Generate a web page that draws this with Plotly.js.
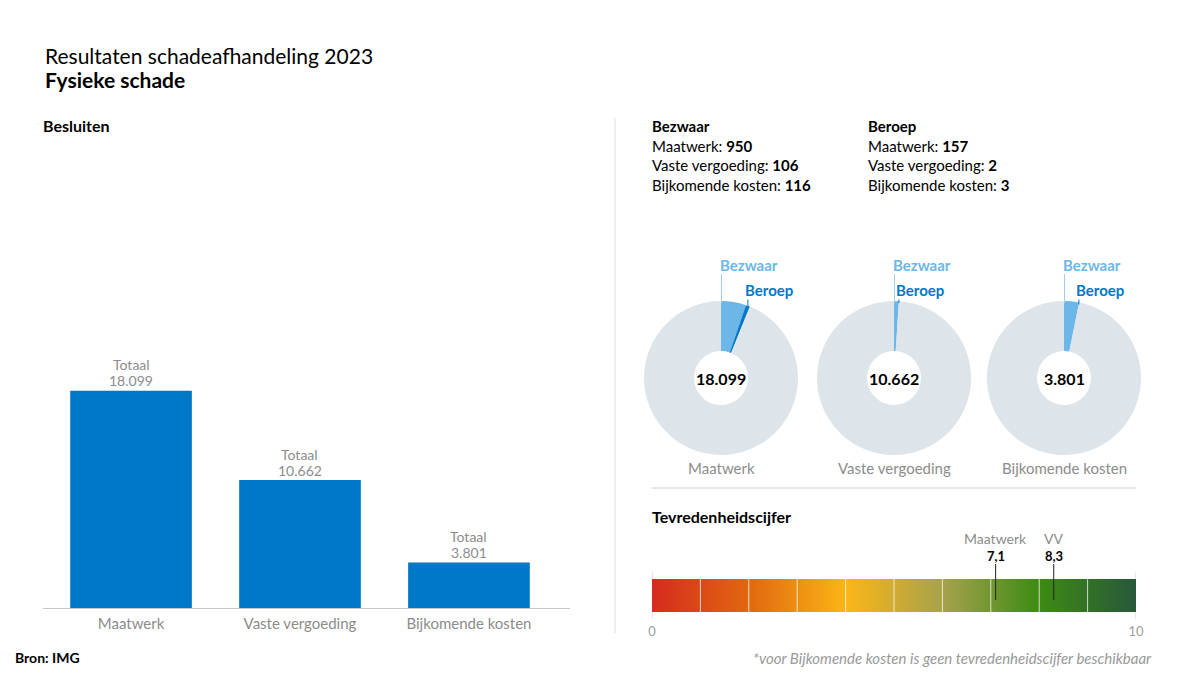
<!DOCTYPE html>
<html>
<head>
<meta charset="utf-8">
<script src="https://cdn.plot.ly/plotly-3.0.1.min.js"></script>
<style>
html, body { margin: 0; padding: 0; background: #fff; }
#chart { width: 1200px; height: 675px; }
</style>
</head>
<body>
<div id="chart"></div>
<script>
// Data.
var categories = ['Maatwerk', 'Vaste vergoeding', 'Bijkomende kosten'];
var totals = [18099, 10662, 3801];
var bezwaar = [950, 106, 116];
var beroep = [157, 2, 3];
var scoreLabels = ['Maatwerk', 'VV'];
var scores = [7.1, 8.3];
var scaleTicks = [0, 10];

var W = 1200, H = 675;
var FONT = 'Lato, "Noto Sans", sans-serif';
var GRAY = '#8c8c8c';
var BLUE = '#0078c8';
var LIGHTBLUE = '#6cb7e8';
var RING = '#dde4ea';

// Pixel helpers (paper coords, margins are 0).
function px(x){ return x / W; }
function py(y){ return 1 - y / H; }
// Dutch thousands separator.
function nl(v){ return String(v).replace(/\B(?=(\d{3})+(?!\d))/g, '.'); }

var donutDomains = [
  {x: [px(644), px(798)], y: [py(455), py(301)]},
  {x: [px(817), px(971)], y: [py(455), py(301)]},
  {x: [px(987), px(1141)], y: [py(455), py(301)]}
];

var traces = [];
var annotations = [];
var shapes = [];

// Bar chart: Besluiten.
traces.push({
  type: 'bar',
  x: categories,
  y: totals,
  marker: {color: BLUE, line: {width: 0}},
  hoverinfo: 'x+y',
  xaxis: 'x',
  yaxis: 'y'
});
for (var i = 0; i < categories.length; ++i){
  annotations.push({
    xref: 'x', yref: 'y', x: categories[i], y: totals[i],
    yanchor: 'middle', yshift: 10, showarrow: false,
    text: nl(totals[i]),
    font: {family: FONT, size: 14, color: GRAY}
  });
  annotations.push({
    xref: 'x', yref: 'y', x: categories[i], y: totals[i],
    yanchor: 'middle', yshift: 26, showarrow: false,
    text: 'Totaal',
    font: {family: FONT, size: 14, color: GRAY}
  });
};

// Donuts.
for (i = 0; i < categories.length; ++i){
  var rest = totals[i] - bezwaar[i] - beroep[i];
  traces.push({
    type: 'pie',
    values: [bezwaar[i], beroep[i], rest],
    labels: ['Bezwaar', 'Beroep', 'Overig'],
    domain: donutDomains[i],
    hole: 0.35,
    sort: false,
    direction: 'clockwise',
    rotation: 0,
    textinfo: 'none',
    marker: {colors: [LIGHTBLUE, BLUE, RING], line: {width: 0}},
    showlegend: false
  });
  var d = donutDomains[i];
  var cx = (d.x[0] + d.x[1]) / 2 * W;
  var cy = (1 - (d.y[0] + d.y[1]) / 2) * H;
  var r = Math.min((d.x[1] - d.x[0]) * W, (d.y[1] - d.y[0]) * H) / 2;
  // Beroep slice middle on the outer edge.
  var th = (bezwaar[i] + beroep[i] / 2) / totals[i] * 2 * Math.PI;
  var bx = cx + r * Math.sin(th);
  var by = cy - r * Math.cos(th);

  shapes.push({type: 'line', xref: 'paper', yref: 'paper',
    x0: px(cx + 0.5), x1: px(cx + 0.5), y0: py(274), y1: py(cy - r + 2),
    line: {color: '#9ed0f0', width: 1}});
  shapes.push({type: 'line', xref: 'paper', yref: 'paper',
    x0: px(bx), x1: px(bx), y0: py(298), y1: py(by + 2),
    line: {color: BLUE, width: 1}});

  annotations.push({
    xref: 'paper', yref: 'paper', x: px(cx - 3), y: py(265),
    xanchor: 'left', yanchor: 'middle', showarrow: false,
    text: '<b>Bezwaar</b>', font: {family: FONT, size: 15, color: LIGHTBLUE}
  });
  annotations.push({
    xref: 'paper', yref: 'paper', x: px(bx - 4), y: py(290),
    xanchor: 'left', yanchor: 'middle', showarrow: false, bgcolor: '#ffffff', borderpad: 0,
    text: '<b>Beroep</b>', font: {family: FONT, size: 15, color: BLUE}
  });
  annotations.push({
    xref: 'paper', yref: 'paper', x: px(cx), y: py(cy),
    xanchor: 'center', yanchor: 'middle', showarrow: false,
    text: '<b>' + nl(totals[i]) + '</b>', font: {family: FONT, size: 16, color: '#000'}
  });
  annotations.push({
    xref: 'paper', yref: 'paper', x: px(cx), y: py(468),
    xanchor: 'center', yanchor: 'middle', showarrow: false,
    text: categories[i], font: {family: FONT, size: 15, color: GRAY}
  });
};

// Gradient bar for Tevredenheidscijfer.
traces.push({
  type: 'heatmap',
  x: scaleTicks,
  y: [0, 1],
  z: [scaleTicks, scaleTicks],
  zsmooth: 'best',
  colorscale: [[0, '#d62b1f'], [0.2, '#e1680f'], [0.4, '#fbb616'], [0.6, '#a6a24c'], [0.8, '#3c8b13'], [1, '#28583a']],
  showscale: false,
  hoverinfo: 'skip',
  xaxis: 'x2',
  yaxis: 'y2'
});
for (var k = 1; k < 10; ++k){
  shapes.push({type: 'line', xref: 'x2', yref: 'y2', x0: k, x1: k, y0: 0, y1: 1,
    line: {color: 'rgba(255,255,255,0.75)', width: 1}});
};
for (k = 0; k < scaleTicks.length; ++k){
  shapes.push({type: 'line', xref: 'x2', yref: 'paper', x0: scaleTicks[k], x1: scaleTicks[k],
    y0: py(572), y1: py(619), layer: 'below', line: {color: '#d0d0d0', width: 1}});
};
for (k = 0; k < scores.length; ++k){
  shapes.push({type: 'line', xref: 'x2', yref: 'paper', x0: scores[k], x1: scores[k],
    y0: py(564), y1: py(600), line: {color: '#222', width: 1}});
  annotations.push({
    xref: 'x2', yref: 'paper', x: scores[k], y: py(538),
    xanchor: 'center', yanchor: 'middle', showarrow: false, borderpad: 0,
    text: scoreLabels[k], font: {family: FONT, size: 14, color: GRAY}
  });
  annotations.push({
    xref: 'x2', yref: 'paper', x: scores[k], y: py(556),
    xanchor: 'center', yanchor: 'middle', showarrow: false, borderpad: 0,
    text: '<b>' + String(scores[k]).replace('.', ',') + '</b>', font: {family: FONT, size: 13, color: '#000'}
  });
};

// Dividers.
shapes.push({type: 'line', xref: 'paper', yref: 'paper', x0: px(615), x1: px(615), y0: py(118), y1: py(633),
  line: {color: '#dcdcdc', width: 1}});
shapes.push({type: 'line', xref: 'paper', yref: 'paper', x0: px(652), x1: px(1136), y0: py(488), y1: py(488),
  line: {color: '#d0d0d0', width: 1}});

// Text blocks.
function textBlock(title, values){
  var lines = ['<b>' + title + '</b>'];
  for (var j = 0; j < categories.length; ++j){
    lines.push(categories[j] + ': <b>' + values[j] + '</b>');
  };
  return lines.join('<br>');
}
var texts = [
  {x: 43, y: 56, t: 'Resultaten schadeafhandeling 2023', s: 21},
  {x: 43, y: 79, t: '<b>Fysieke schade</b>', s: 21},
  {x: 41, y: 126, t: '<b>Besluiten</b>', s: 16},
  {x: 650, y: 516, t: '<b>Tevredenheidscijfer</b>', s: 16},
  {x: 13, y: 657, t: '<b>Bron: IMG</b>', s: 14}
];
texts.forEach(function(o){
  annotations.push({xref: 'paper', yref: 'paper', x: px(o.x), y: py(o.y), xanchor: 'left', yanchor: 'middle',
    showarrow: false, text: o.t, font: {family: FONT, size: o.s, color: '#000'}});
});
annotations.push({xref: 'paper', yref: 'paper', x: px(650), y: py(115), xanchor: 'left', yanchor: 'top',
  align: 'left', showarrow: false, text: textBlock('Bezwaar', bezwaar), font: {family: FONT, size: 15, color: '#000'}});
annotations.push({xref: 'paper', yref: 'paper', x: px(866), y: py(115), xanchor: 'left', yanchor: 'top',
  align: 'left', showarrow: false, text: textBlock('Beroep', beroep), font: {family: FONT, size: 15, color: '#000'}});
annotations.push({xref: 'paper', yref: 'paper', x: px(1154), y: py(658), xanchor: 'right', yanchor: 'middle',
  showarrow: false, text: '<i>*voor Bijkomende kosten is geen tevredenheidscijfer beschikbaar</i>',
  font: {family: FONT, size: 15, color: '#999'}});

var layout = {
  width: W,
  height: H,
  margin: {l: 0, r: 0, t: 0, b: 0},
  paper_bgcolor: '#fff',
  plot_bgcolor: 'rgba(0,0,0,0)',
  showlegend: false,
  bargap: 0.28,
  font: {family: FONT},
  xaxis: {
    domain: [px(43), px(570)],
    range: [-0.521, 2.598],
    showline: true, linecolor: '#c8c8c8', linewidth: 1,
    ticks: 'outside', ticklen: 2, tickcolor: 'rgba(0,0,0,0)',
    tickfont: {family: FONT, size: 15, color: GRAY},
    showgrid: false, zeroline: false, fixedrange: true
  },
  yaxis: {
    domain: [py(608), py(248)],
    range: [0, 30000],
    visible: false, fixedrange: true
  },
  xaxis2: {
    domain: [px(652), px(1136)],
    range: [0, 10],
    anchor: 'y2',
    tickvals: scaleTicks, ticktext: scaleTicks.map(String),
    ticks: 'outside', ticklen: 7, tickcolor: 'rgba(0,0,0,0)',
    tickfont: {family: FONT, size: 13, color: '#a0a0a0'},
    showgrid: false, zeroline: false, showline: false, fixedrange: true
  },
  yaxis2: {
    domain: [py(612), py(579)],
    range: [0, 1],
    anchor: 'x2',
    visible: false, fixedrange: true
  },
  shapes: shapes,
  annotations: annotations
};

Plotly.newPlot('chart', traces, layout, {displayModeBar: false, responsive: false});
</script>
</body>
</html>
